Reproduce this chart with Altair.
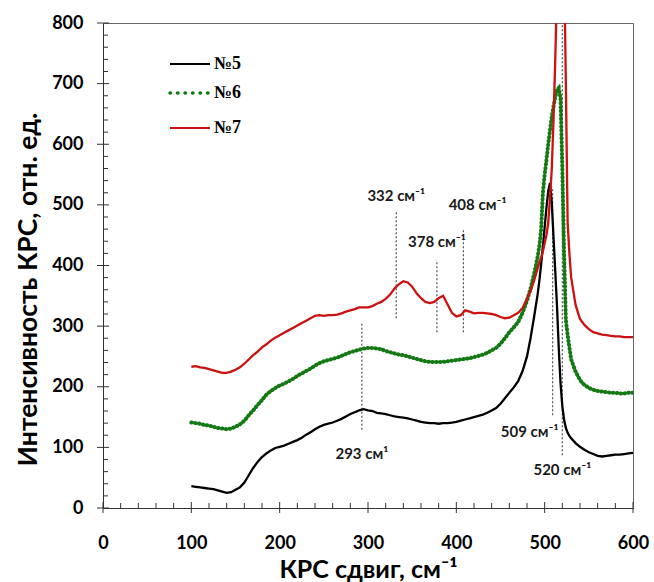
import altair as alt
import pandas as pd

# Raman shift grid (cm-1) and intensities for the three samples
wavenumber = [
    100, 105, 110, 115, 120, 125, 130, 135, 140, 145, 150, 155, 160, 165, 170, 175,
    180, 185, 190, 195, 200, 205, 210, 215, 220, 225, 230, 235, 240, 245, 250, 255,
    260, 265, 270, 275, 280, 285, 290, 295, 300, 305, 310, 315, 320, 325, 330, 335,
    340, 345, 350, 355, 360, 365, 370, 375, 380, 385, 390, 395, 400, 405, 410, 415,
    420, 425, 430, 435, 440, 445, 450, 455, 460, 465, 470, 475, 480,
    484, 488, 492, 494, 496, 498, 500, 502, 504, 506, 508, 510, 512, 514, 516, 518,
    520, 522, 524, 526, 528, 530,
    535, 540, 545, 550, 555, 560, 565, 570, 575, 580, 585, 590, 595, 600,
]

sample5 = [
    36, 35, 34, 33, 32, 31, 29, 27, 25, 26, 30, 34, 42, 54, 66, 76,
    84, 90, 95, 99, 101, 103, 106, 109, 112, 116, 121, 125, 130, 134, 137, 139,
    141, 144, 147, 151, 155, 158, 161, 163, 161, 160, 157, 156, 155, 153, 151, 150,
    149, 148, 146, 144, 142, 141, 140, 140, 139, 140, 140, 141, 142, 144, 146, 148,
    150, 152, 154, 157, 161, 165, 172, 181, 190, 199, 209, 226, 250,
    280, 315, 352, 375, 402, 432, 463, 495, 522, 536, 505, 447, 390, 332, 262, 205,
    168, 145, 132, 124, 119, 115,
    107, 101, 96, 92, 89, 86, 85, 86, 87, 88, 88, 89, 90, 91,
]

sample6 = [
    141, 140, 139, 137, 136, 134, 132, 131, 130, 131, 134, 138, 144, 153, 161, 170,
    178, 187, 193, 198, 202, 205, 209, 213, 218, 222, 226, 230, 235, 239, 242, 244,
    246, 248, 251, 254, 257, 259, 261, 263, 264, 264, 263, 262, 259, 257, 255, 253,
    252, 250, 248, 246, 244, 242, 241, 241, 241, 241, 242, 243, 244, 245, 246, 247,
    249, 251, 253, 256, 260, 264, 271, 280, 290, 298, 307, 322, 342,
    362, 386, 414, 432, 460, 520, 550, 574, 600, 622, 645, 662, 678, 690, 693, 675,
    560, 420, 310, 285, 265, 245,
    225, 211, 203, 198, 195, 193, 192, 191, 190, 190, 189, 189, 190, 190,
]

sample7 = [
    233, 234, 232, 231, 229, 227, 225, 223, 223, 225, 228, 232, 238, 245, 252, 258,
    265, 270, 276, 281, 285, 289, 293, 297, 301, 305, 309, 313, 317, 318, 317, 318,
    318, 319, 321, 324, 326, 328, 331, 331, 331, 333, 337, 340, 345, 352, 362, 369,
    374, 372, 365, 354, 346, 340, 338, 340, 346, 350, 336, 322, 316, 318, 326, 324,
    321, 322, 322, 321, 320, 318, 315, 313, 314, 318, 322, 330, 345,
    358, 375, 395, 405, 413, 423, 437, 450, 470, 510, 558, 640, 740, 860, 950, 1000,
    1000, 900, 700, 470, 420, 380,
    335, 312, 302, 295, 290, 288, 286, 285, 284, 283, 283, 282, 282, 282,
]

series_names = ["№5", "№6", "№7"]
series_colors = ["#000000", "#137a13", "#cc1111"]

# Peak markers: position, vertical extent and annotation text
peak_pos = [293, 332, 378, 408, 509, 520]
peak_low = [129, 313, 290, 290, 153, 87]
peak_high = [305, 488, 409, 460, 530, 800]
peak_text = ["293 см¹", "332 см⁻¹", "378 см⁻¹", "408 см⁻¹", "509 см⁻¹", "520 см⁻¹"]
peak_text_x = [293, 332, 378, 424, 483, 520]
peak_text_y = [89, 515, 439, 500, 125, 63]

x_major = list(range(0, 601, 100))
x_minor = [v for v in range(0, 601, 20) if v % 100]
y_major = list(range(0, 801, 100))
y_minor = [v for v in range(0, 801, 20) if v % 100]

W, H = 530, 485
FONT = "Lato"

xs = alt.Scale(domain=[0, 600], nice=False, zero=False)
ys = alt.Scale(domain=[0, 800], nice=False, zero=False)

x_axis = alt.Axis(
    values=x_major, ticks=False, grid=False, domainColor="#333333", domainWidth=1,
    labelFont=FONT, labelFontWeight="bold", labelFontSize=18, labelColor="#000000",
    labelPadding=26, labelFlush=False, title="КРС сдвиг, см⁻¹", titleFont=FONT,
    titleFontWeight="bold", titleFontSize=25, titleColor="#000000", titleY=69,
    titleBaseline="alphabetic", titleAnchor="middle",
)
y_axis = alt.Axis(
    values=y_major, ticks=False, grid=False, domainColor="#333333", domainWidth=1,
    labelFont=FONT, labelFontWeight="bold", labelFontSize=18, labelColor="#000000",
    labelPadding=20, labelFlush=False, title="Интенсивность КРС, отн. ед.", titleFont=FONT,
    titleFontWeight="bold", titleFontSize=26.5, titleColor="#000000", titleX=-67,
    titleY=266, titleAngle=-90, titleBaseline="alphabetic", titleAlign="center",
)


def X(field):
    return alt.X(field, type="quantitative", scale=xs, axis=x_axis)


def Y(field):
    return alt.Y(field, type="quantitative", scale=ys, axis=y_axis)


spectra = pd.DataFrame({
    "shift": wavenumber * 3,
    "value": sample5 + sample6 + sample7,
    "sample": [series_names[0]] * len(wavenumber)
    + [series_names[1]] * len(wavenumber)
    + [series_names[2]] * len(wavenumber),
})

layers = []

# dashed peak markers (behind spectra)
peaks = pd.DataFrame({"pos": peak_pos, "lo": peak_low, "hi": peak_high})
layers.append(
    alt.Chart(peaks).mark_rule(color="#555555", strokeDash=[2, 2], strokeWidth=1.2, clip=True)
    .encode(x=X("pos"), y=Y("lo"), y2="hi:Q")
)

for name, color in zip(series_names, series_colors):
    sub = spectra[spectra["sample"] == name]
    if name == "№6":
        mark = alt.Chart(sub).mark_line(color=color, strokeWidth=4, strokeDash=[0.5, 3.4],
                                        strokeCap="round", clip=True)
    else:
        mark = alt.Chart(sub).mark_line(color=color, strokeWidth=2.3, clip=True)
    layers.append(mark.encode(x=X("shift"), y=Y("value"), order="shift:Q"))

# peak annotations
ann = pd.DataFrame({"t": peak_text, "x": peak_text_x, "y": peak_text_y})
layers.append(
    alt.Chart(ann).mark_text(font=FONT, fontWeight="bold", fontSize=15, color="#1a1a1a")
    .encode(x=X("x"), y=Y("y"), text="t:N")
)

# axis ticks: major ticks cross the axis line, minor ticks point inward
layers.append(alt.Chart(pd.DataFrame({"v": y_minor})).mark_rule(color="#333333")
              .encode(y=Y("v"), x=alt.value(0), x2=alt.value(5)))
layers.append(alt.Chart(pd.DataFrame({"v": y_major})).mark_rule(color="#333333")
              .encode(y=Y("v"), x=alt.value(-6), x2=alt.value(6)))
layers.append(alt.Chart(pd.DataFrame({"v": x_minor})).mark_rule(color="#333333")
              .encode(x=X("v"), y=alt.value(H - 5), y2=alt.value(H)))
layers.append(alt.Chart(pd.DataFrame({"v": x_major})).mark_rule(color="#333333")
              .encode(x=X("v"), y=alt.value(H - 6), y2=alt.value(H + 5)))

# legend in the upper-left corner
legend_rows = [41, 70, 105]
for name, color, ry in zip(series_names, series_colors, legend_rows):
    row = pd.DataFrame({"label": [name]})
    if name == "№6":
        sym = alt.Chart(row).mark_rule(color=color, strokeWidth=3.5, strokeDash=[0.5, 7],
                                       strokeCap="round")
    else:
        sym = alt.Chart(row).mark_rule(color=color, strokeWidth=2)
    layers.append(sym.encode(x=alt.value(67), x2=alt.value(107), y=alt.value(ry)))
    layers.append(
        alt.Chart(row).mark_text(font="Liberation Serif", fontWeight="bold", fontSize=18,
                                 align="left", baseline="middle", color="#000000")
        .encode(x=alt.value(111), y=alt.value(ry), text="label:N")
    )

chart = alt.layer(*layers).properties(
    width=W, height=H,
    autosize=alt.AutoSizeParams(type="none"),
    padding={"left": 103, "top": 23, "right": 21, "bottom": 74},
    background="#ffffff",
).configure_view(stroke="#666666", strokeWidth=1)

chart.save("out.html", embed_options={"renderer": "svg", "actions": False})
